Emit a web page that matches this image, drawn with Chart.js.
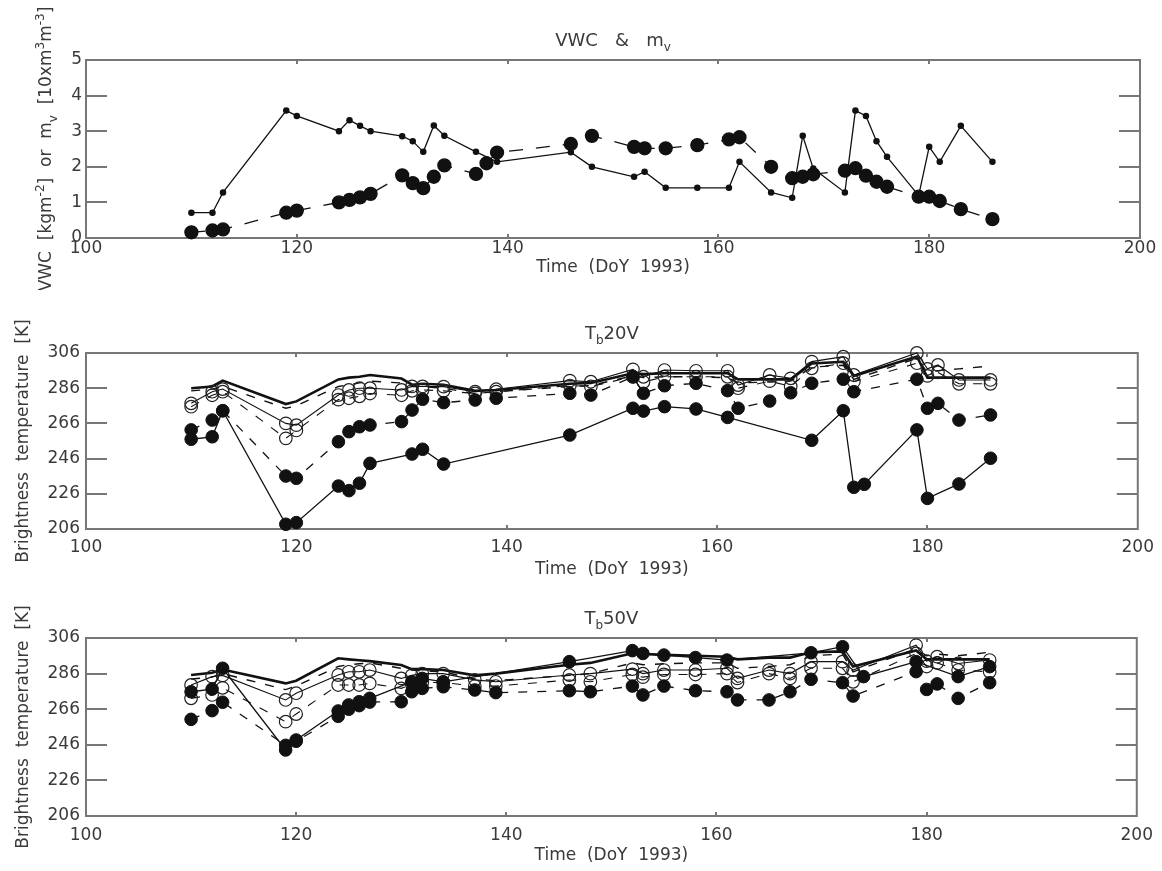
<!DOCTYPE html>
<html>
<head>
<meta charset="utf-8">
<script src="https://cdn.jsdelivr.net/npm/chart.js@4/dist/chart.umd.min.js"></script>
<style>
  html, body { margin: 0; padding: 0; background: #fff; }
  #wrap { position: relative; width: 1162px; height: 871px; background: #fff; }
  canvas { position: absolute; left: 0; }
</style>
</head>
<body>
<div id="wrap">
  <canvas id="c1" width="1162" height="290" style="top:0px"></canvas>
  <canvas id="c2" width="1162" height="290" style="top:290px"></canvas>
  <canvas id="c3" width="1162" height="291" style="top:580px"></canvas>
</div>
<script>
// ---------------- DATA ----------------
const xTickValues = [100, 120, 140, 160, 180, 200];
const vwcTickValues = [0, 1, 2, 3, 4, 5];
const tbTickValues = [206, 226, 246, 266, 286, 306];
const xAxisTitle = 'Time  (DoY  1993)';

// Top panel: VWC (solid, small dots) and m_v (dashed, big dots)
const vwcDays = [110,112,113,119,120,124,125,126,127,130,131,132,133,134,137,139,146,148,152,153,155,158,161,162,165,167,168,169,172,173,174,175,176,179,180,181,183,186];
const vwcValues = [0.71,0.71,1.28,3.58,3.43,3.00,3.31,3.15,3.00,2.86,2.72,2.42,3.16,2.87,2.42,2.14,2.41,2.00,1.72,1.86,1.41,1.41,1.41,2.14,1.28,1.13,2.87,1.95,1.28,3.58,3.43,2.72,2.28,1.19,2.56,2.14,3.15,2.14];
const mvDays = [110,112,113,119,120,124,125,126,127,130,131,132,133,134,137,138,139,146,148,152,153,155,158,161,162,165,167,168,169,172,173,174,175,176,179,180,181,183,186];
const mvValues = [0.16,0.21,0.24,0.71,0.77,1.00,1.07,1.14,1.24,1.76,1.54,1.40,1.72,2.04,1.80,2.10,2.40,2.64,2.87,2.56,2.52,2.52,2.61,2.77,2.83,2.00,1.68,1.72,1.79,1.89,1.96,1.75,1.58,1.44,1.16,1.16,1.04,0.81,0.53];

// Brightness temperature panels (same day list; null = no point)
const tbDays = [110,112,113,119,120,124,125,126,127,130,131,132,134,137,139,146,148,152,153,155,158,161,162,165,167,169,172,173,174,179,180,181,183,186];

// Tb 20V
const tb20Thick = [286.0,287.0,290.3,277.0,278.5, 291.0,292.0,292.5,293.5, 291.5,288.0,288.5, 288.0, 284.5,285.0, 288.5,289.0, 294.5,294.0,294.5,294.5,294.5,291.0, 291.0,291.0, 300.0,301.0,293.0,null, 304.0,292.0,292.0,292.0,292.0];
const tb20Dash  = [284.5,285.5,287.0,274.6,276.0, 287.0,288.0,289.0,290.0, 289.0,287.0,287.0, 286.0, 283.0,284.0, 287.0,287.5, 293.0,292.0,292.5,292.5,292.0,289.0, 289.5,290.0, 298.0,299.0,291.0,null, 303.0,295.0,296.0,297.0,298.6];
const tb20OpenA = [277.4,284.0,285.5,266.0,265.0, 282.1,285.0,286.0,286.0, 285.0,287.0,287.0, 286.9, 284.0,285.4, 290.3,289.7, 296.7,292.5,296.3,295.9,295.9,287.8, 293.5,291.6, 301.1,303.9,293.5,null, 306.0,297.0,299.2,290.7,290.7];
const tb20OpenB = [275.5,282.0,284.0,257.5,262.0, 279.5,280.3,281.4,283.0, 282.0,284.5,285.0, 284.5, 283.0,284.0, 287.5,287.0, 292.5,289.5,292.5,292.5,292.5,286.0, 290.0,287.0, 297.3,300.2,289.7,null, 300.2,293.0,295.0,288.5,288.5];
const tb20FillA = [262.3,267.9,273.2,236.1,234.8, 255.6,261.3,264.1,265.1, 267.0,273.6,279.7, 277.8, 279.3,280.3, 283.1,282.1, 292.5,283.1,287.4,288.8,284.6,274.6, 278.7,283.4, 288.8,291.1,284.0,null, 291.1,274.6,277.4,267.9,270.8];
const tb20FillB = [257.0,258.4,273.2,208.7,209.6, 230.4,227.8,232.0,243.3, null,248.6,251.3, 242.9, null,null, 259.4,null, 274.6,273.0,275.5,274.2,269.4,null, null,null, 256.4,273.2,229.7,231.4, 262.3,223.4,null,231.6,246.2];

// Tb 50V
const tb50Thick = [285.2,286.5,288.3,280.5,282.0, 294.6,294.0,293.5,293.0, 290.8,288.5,288.5, 288.0, 285.0,286.0, 291.0,292.0, 297.4,297.0,296.5,296.0,295.5,294.0, 295.0,295.0, 298.0,298.5,290.0,null, 299.0,294.0,294.0,294.0,294.0];
const tb50Dash  = [283.0,284.0,286.0,277.0,279.0, 290.0,291.0,291.5,292.0, 289.0,288.0,287.5, 287.0, 283.0,282.0, 285.0,286.0, 292.0,291.0,291.5,292.0,292.0,289.0, 290.0,291.0, 296.0,297.0,287.0,null, 300.0,296.0,297.0,296.0,298.0];
const tb50OpenA = [279.6,284.3,285.0,271.2,275.0, 285.2,287.0,287.0,288.0, 283.3,285.0,286.0, 286.0, 282.5,281.4, 285.2,286.0, 288.5,286.0,288.0,288.0,289.0,283.3, 288.0,286.0, 292.7,292.7,288.0,null, 302.0,293.0,295.5,291.7,293.6];
const tb50OpenB = [272.1,274.0,278.0,259.0,263.3, 279.6,279.6,279.6,280.5, 277.7,280.0,281.0, 281.0, 279.0,279.0, 282.4,281.4, 285.5,284.0,285.5,285.5,286.0,281.0, 286.0,283.3, 289.0,289.0,281.4,null, 297.3,290.0,292.0,288.0,287.0];
const tb50FillA = [260.3,265.2,269.9,245.7,248.0, 262.0,266.0,268.0,270.0, 270.2,275.8,277.7, 278.6, 276.8,275.3, 276.4,275.8, 279.0,274.0,279.0,276.4,275.8,271.2, 271.2,275.8, 282.8,280.9,273.4,null, 287.1,277.1,280.2,272.1,280.9];
const tb50FillB = [275.8,277.3,289.0,243.1,248.7, 265.0,268.4,270.2,272.1, null,281.4,283.3, 281.4, null,null, 292.7,null, 298.9,297.3,296.4,295.0,293.6,null, null,null, 297.7,301.1,null,284.3, 292.7,null,null,284.3,289.9];

// Titles (segments: k = '' | 'sub' | 'sup')
const title1 = [{t:'VWC   &   m'},{t:'v',k:'sub'}];
const title2 = [{t:'T'},{t:'b',k:'sub'},{t:'20V'}];
const title3 = [{t:'T'},{t:'b',k:'sub'},{t:'50V'}];
const ylab1 = [{t:'VWC  [kgm'},{t:'-2',k:'sup'},{t:']  or  m'},{t:'v',k:'sub'},{t:'  [10xm'},{t:'3',k:'sup'},{t:'m'},{t:'-3',k:'sup'},{t:']'}];
const ylabTb = [{t:'Brightness  temperature  [K]'}];

// ---------------- RENDERING ----------------
const FONT = '"DejaVu Sans", sans-serif';
const TXT = '#3a3a3a';
const INK = '#111111';
const FRAME = '#777777';

function pts(days, vals) { return days.map((d, i) => ({x: d, y: vals[i]})); }

function drawRich(ctx, segs, x, y, size, rotate) {
  ctx.save();
  ctx.translate(x, y);
  if (rotate) ctx.rotate(-Math.PI / 2);
  ctx.fillStyle = TXT;
  ctx.textBaseline = 'middle';
  ctx.textAlign = 'left';
  let total = 0;
  const items = segs.map(s => {
    const fs = s.k ? Math.round(size * 0.68) : size;
    ctx.font = fs + 'px ' + FONT;
    const w = ctx.measureText(s.t).width;
    total += w;
    return {s, fs, w};
  });
  let cx = -total / 2;
  items.forEach(it => {
    ctx.font = it.fs + 'px ' + FONT;
    const dy = it.s.k === 'sub' ? size * 0.38 : (it.s.k === 'sup' ? -size * 0.36 : 0);
    ctx.fillText(it.s.t, cx, dy);
    cx += it.w;
  });
  ctx.restore();
}

const framePlugin = {
  id: 'frameTicks',
  beforeDatasetsDraw(chart) {
    const {ctx, chartArea: a, scales} = chart;
    const x = scales.x, y = scales.y;
    ctx.save();
    ctx.strokeStyle = FRAME;
    ctx.lineWidth = 2;
    ctx.strokeRect(a.left, a.top, a.right - a.left, a.bottom - a.top);
    ctx.beginPath();
    y.ticks.forEach(t => {
      if (t.value === y.min || t.value === y.max) return;
      const py = Math.round(y.getPixelForValue(t.value));
      ctx.moveTo(a.left, py); ctx.lineTo(a.left + 21, py);
      ctx.moveTo(a.right - 21, py); ctx.lineTo(a.right, py);
    });
    x.ticks.forEach(t => {
      if (t.value === x.min || t.value === x.max) return;
      const px = Math.round(x.getPixelForValue(t.value));
      ctx.moveTo(px, a.top); ctx.lineTo(px, a.top + 4);
      ctx.moveTo(px, a.bottom - 4); ctx.lineTo(px, a.bottom);
    });
    ctx.stroke();
    ctx.restore();
  },
  afterDraw(chart) {
    const o = chart.options.plugins.frameTicks;
    const {ctx, chartArea: a} = chart;
    const cx = (a.left + a.right) / 2;
    drawRich(ctx, o.title, cx, a.top - o.titleGap, 18, false);
    drawRich(ctx, o.ylabel, o.ylabelX, (a.top + a.bottom) / 2, 17, true);
  }
};

function styleFilled(dash) {
  return {borderColor: INK, borderWidth: 1.3, borderDash: dash ? [9, 10] : [], pointRadius: 6.3,
          pointBackgroundColor: INK, pointBorderColor: INK, pointBorderWidth: 1};
}
function styleOpen(dash) {
  return {borderColor: INK, borderWidth: 1.1, borderDash: dash ? [9, 10] : [], pointRadius: 6.3,
          pointBackgroundColor: 'rgba(255,255,255,0)', pointBorderColor: '#222', pointBorderWidth: 1.2};
}
function styleLine(thick, dash) {
  return {borderColor: INK, borderWidth: thick ? 2.6 : 1.4, borderDash: dash ? [9, 10] : [], pointRadius: 0};
}

function makeChart(id, cfg) {
  const datasets = cfg.series.map(s => Object.assign({
    data: pts(s.days, s.vals), tension: 0, spanGaps: true, clip: false, fill: false,
    pointHoverRadius: 0
  }, s.style));
  return new Chart(document.getElementById(id), {
    type: 'line',
    data: {datasets},
    options: {
      responsive: false, animation: false, devicePixelRatio: 1,
      events: [],
      layout: {padding: {left: 0, right: 22, top: cfg.padTop, bottom: cfg.padBottom}},
      plugins: {
        legend: {display: false}, tooltip: {enabled: false},
        frameTicks: {title: cfg.title, ylabel: cfg.ylabel, ylabelX: cfg.ylabelX, titleGap: 19}
      },
      scales: {
        x: {
          type: 'linear', min: 100, max: 200,
          afterBuildTicks: s => { s.ticks = xTickValues.map(v => ({value: v})); },
          grid: {display: false, drawTicks: false}, border: {display: false},
          ticks: {font: {family: FONT, size: 17}, color: TXT, padding: cfg.xTickPad, maxRotation: 0, autoSkip: false},
          title: {display: true, text: xAxisTitle, font: {family: FONT, size: 17}, color: TXT, padding: {top: 0, bottom: 0}},
          afterFit: s => { s.height = cfg.xH; }
        },
        y: {
          type: 'linear', min: cfg.yMin, max: cfg.yMax,
          afterBuildTicks: s => { s.ticks = cfg.yTicks.map(v => ({value: v})); },
          grid: {display: false, drawTicks: false}, border: {display: false},
          ticks: {font: {family: FONT, size: 17}, color: TXT, padding: cfg.yTickPad, autoSkip: false},
          afterFit: s => { s.width = 86; }
        }
      }
    },
    plugins: [framePlugin]
  });
}

makeChart('c1', {
  padTop: 60, padBottom: 12, xH: 40, xTickPad: 0, yTickPad: 4,
  yMin: 0, yMax: 5, yTicks: vwcTickValues, title: title1, ylabel: ylab1, ylabelX: 47,
  series: [
    {days: vwcDays, vals: vwcValues, style: {borderColor: INK, borderWidth: 1.3, pointRadius: 2.6, pointBackgroundColor: INK, pointBorderColor: INK}},
    {days: mvDays, vals: mvValues, style: {borderColor: INK, borderWidth: 1.3, borderDash: [14, 13], pointRadius: 6.5, pointBackgroundColor: INK, pointBorderColor: INK}}
  ]
});

makeChart('c2', {
  padTop: 63, padBottom: 0, xH: 51, xTickPad: 8, yTickPad: 6,
  yMin: 206, yMax: 306, yTicks: tbTickValues, title: title2, ylabel: ylabTb, ylabelX: 24,
  series: [
    {days: tbDays, vals: tb20FillB, style: styleFilled(false)},
    {days: tbDays, vals: tb20FillA, style: styleFilled(true)},
    {days: tbDays, vals: tb20OpenA, style: styleOpen(false)},
    {days: tbDays, vals: tb20OpenB, style: styleOpen(true)},
    {days: tbDays, vals: tb20Thick, style: styleLine(true, false)},
    {days: tbDays, vals: tb20Dash, style: styleLine(false, true)}
  ]
});

makeChart('c3', {
  padTop: 58, padBottom: 5, xH: 50, xTickPad: 9, yTickPad: 6,
  yMin: 206, yMax: 306, yTicks: tbTickValues, title: title3, ylabel: ylabTb, ylabelX: 24,
  series: [
    {days: tbDays, vals: tb50FillB, style: styleFilled(false)},
    {days: tbDays, vals: tb50FillA, style: styleFilled(true)},
    {days: tbDays, vals: tb50OpenA, style: styleOpen(false)},
    {days: tbDays, vals: tb50OpenB, style: styleOpen(true)},
    {days: tbDays, vals: tb50Thick, style: styleLine(true, false)},
    {days: tbDays, vals: tb50Dash, style: styleLine(false, true)}
  ]
});
</script>
</body>
</html>
